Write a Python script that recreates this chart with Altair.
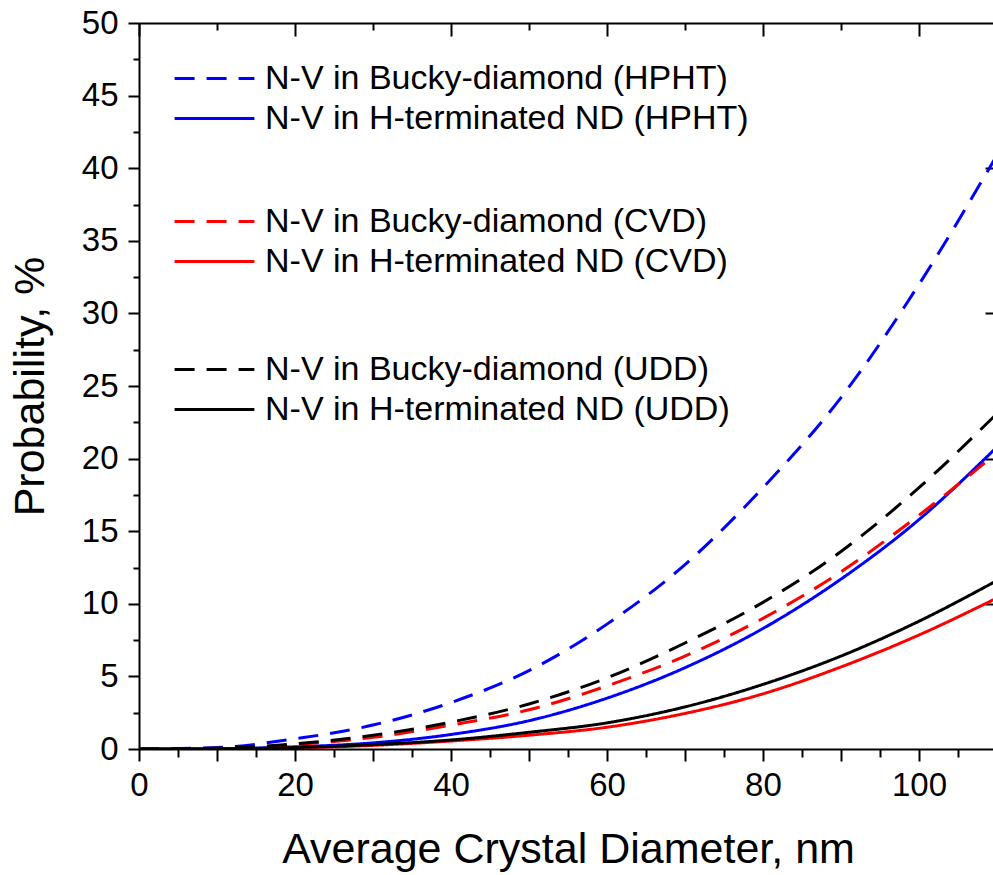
import altair as alt
import pandas as pd

FONT = "Liberation Sans"

# ---- data ----
diam = [0, 10, 20, 30, 40, 50, 60, 70, 80, 90, 100, 110]
bucky_hpht = [0, 0.10, 0.70, 1.65, 3.20, 5.40, 8.60, 12.70, 18.00, 24.20, 32.00, 40.90]
hterm_hpht = [0, 0.02, 0.15, 0.42, 1.00, 1.95, 3.50, 5.60, 8.30, 11.70, 15.80, 20.80]
bucky_cvd = [0, 0.05, 0.30, 0.80, 1.65, 2.70, 4.35, 6.40, 9.00, 12.20, 16.10, 20.40]
hterm_cvd = [0, 0.01, 0.08, 0.25, 0.55, 0.95, 1.50, 2.45, 3.80, 5.65, 7.85, 10.40]
bucky_udd = [0, 0.06, 0.35, 0.95, 1.85, 3.10, 4.90, 7.30, 10.10, 13.60, 18.00, 23.10]
hterm_udd = [0, 0.01, 0.10, 0.30, 0.62, 1.15, 1.80, 2.90, 4.45, 6.40, 8.80, 11.60]

groups = ["HPHT", "CVD", "UDD"]
group_colors = ["#0000ff", "#ff0000", "#000000"]
series_labels = {
    "HPHT": ["N-V in Bucky-diamond (HPHT)", "N-V in H-terminated ND (HPHT)"],
    "CVD": ["N-V in Bucky-diamond (CVD)", "N-V in H-terminated ND (CVD)"],
    "UDD": ["N-V in Bucky-diamond (UDD)", "N-V in H-terminated ND (UDD)"],
}
series_values = {
    "HPHT": [bucky_hpht, hterm_hpht],
    "CVD": [bucky_cvd, hterm_cvd],
    "UDD": [bucky_udd, hterm_udd],
}

rows = []
for g in groups:
    for lab, vals in zip(series_labels[g], series_values[g]):
        for d, v in zip(diam, vals):
            rows.append({"diam": d, "prob": v, "series": lab, "group": g})
df = pd.DataFrame(rows)

# ---- scales / layout ----
W, H = 854, 726
XMAX = 109.49
xs = alt.Scale(domain=[0, XMAX], nice=False, zero=False)
ys = alt.Scale(domain=[0, 50], nice=False, zero=False)

legend_y = {"HPHT": 33, "CVD": 176, "UDD": 324}
DASH = [20, 12]


def group_layer(g, color):
    labs = series_labels[g]
    leg = alt.Legend(
        orient="none", legendX=53, legendY=legend_y[g], title=None,
        padding=0, rowPadding=0, labelFont=FONT, labelFontSize=34,
        labelColor="black", labelLimit=0, labelOffset=28,
        symbolType="M-1.9,0H1.9", symbolSize=1764, symbolStrokeWidth=3,
    )
    return (
        alt.Chart(df)
        .transform_filter(alt.datum.group == g)
        .mark_line(strokeWidth=3, clip=True, interpolate="monotone")
        .encode(
            x=alt.X("diam:Q", scale=xs, axis=None),
            y=alt.Y("prob:Q", scale=ys, axis=None),
            color=alt.Color("series:N", scale=alt.Scale(domain=labs, range=[color, color]), legend=leg),
            strokeDash=alt.StrokeDash("series:N", scale=alt.Scale(domain=labs, range=[DASH, [1, 0]]), legend=leg),
        )
    )


base = dict(
    grid=False, domainColor="black", domainWidth=2, tickColor="black", tickWidth=2,
    labelFont=FONT, labelFontSize=33, labelColor="black",
    titleFont=FONT, titleFontSize=43, titleColor="black", titleFontWeight="normal",
)

x_major_vals = list(range(0, 101, 10))
x_minor_vals = list(range(5, 106, 10))
x_top_major = list(range(0, 101, 20))
x_top_minor = list(range(10, 100, 20))
y_major_vals = list(range(0, 51, 5))
y_minor_vals = [v + 2.5 for v in range(0, 50, 5)]
y_right_vals = [10, 20, 30, 40]

ax_bottom = alt.Axis(
    orient="bottom", values=x_major_vals, tickSize=12, labelPadding=8,
    labelExpr="datum.value % 20 === 0 ? datum.label : ''", labelFlush=False, labelOverlap=False,
    title="Average Crystal Diameter, nm", titleX=W / 2 + 2, titleY=113, titleBaseline="alphabetic",
    titleAlign="center", **base,
)
ax_bottom_minor = alt.Axis(orient="bottom", values=x_minor_vals, tickSize=8, labels=False,
                           domain=False, title=None, **base)
ax_top_frame = alt.Axis(orient="top", ticks=False, labels=False, domain=True, title=None, **base)
ax_top_major = alt.Axis(orient="top", values=x_top_major, tickSize=13, offset=-13, labels=False,
                        domain=False, title=None, **base)
ax_top_minor = alt.Axis(orient="top", values=x_top_minor, tickSize=7, offset=-7, labels=False,
                        domain=False, title=None, **base)

ax_left = alt.Axis(
    orient="left", values=y_major_vals, tickSize=11, labelPadding=10, labelOverlap=False,
    labelFlush=False,
    title="Probability, %", titleX=-96, titleY=H / 2, titleAngle=270, titleBaseline="alphabetic",
    titleAlign="center", **base,
)
ax_left_minor = alt.Axis(orient="left", values=y_minor_vals, tickSize=6, labels=False,
                         domain=False, title=None, **base)
ax_right = alt.Axis(orient="right", values=y_right_vals, tickSize=8, offset=-8, labels=False,
                    domain=False, title=None, **base)


def axis_layer(xaxis, yaxis=None):
    return alt.Chart(df).mark_point(opacity=0).encode(
        x=alt.X("diam:Q", scale=xs, axis=xaxis),
        y=alt.Y("prob:Q", scale=ys, axis=yaxis),
    )


layers = [group_layer(g, c) for g, c in zip(groups, group_colors)]
layers += [
    axis_layer(ax_bottom, ax_left),
    axis_layer(ax_bottom_minor, ax_left_minor),
    axis_layer(ax_top_frame, ax_right),
    axis_layer(ax_top_major),
    axis_layer(ax_top_minor),
]

chart = (
    alt.layer(*layers)
    .resolve_scale(color="independent", strokeDash="independent")
    .resolve_axis(x="independent", y="independent")
    .properties(
        width=W, height=H,
        autosize=alt.AutoSizeParams(type="none"),
        padding={"left": 139, "top": 23, "right": 0, "bottom": 126},
        background="white",
    )
    .configure_view(stroke=None)
)

chart.save("out.html", embed_options={"renderer": "svg", "actions": False})
